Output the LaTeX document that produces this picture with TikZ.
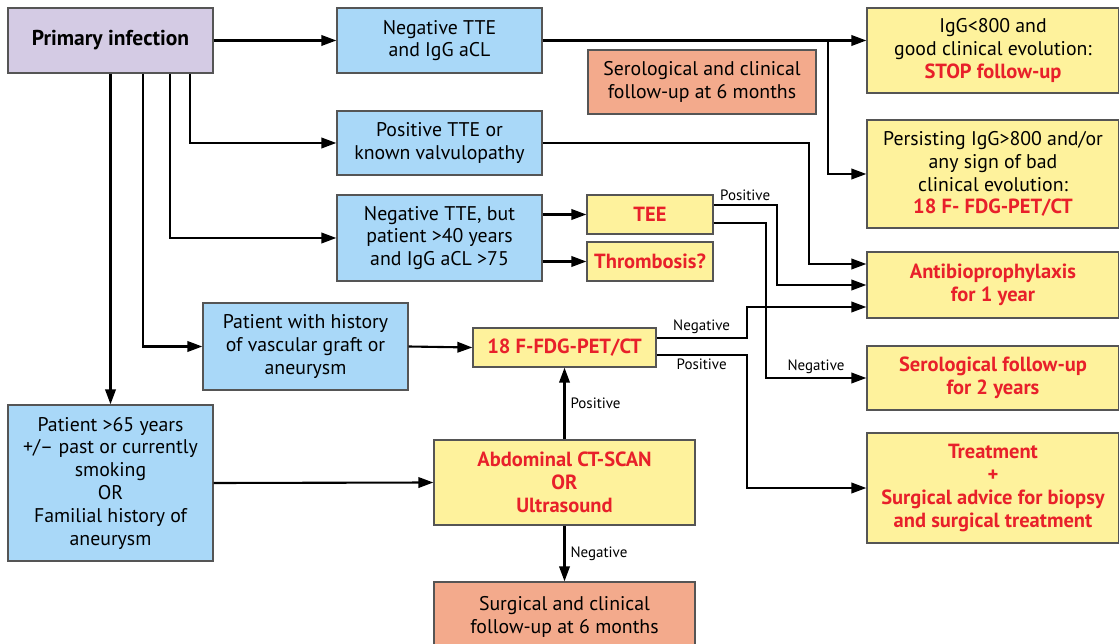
\documentclass[tikz,border=0pt]{standalone}
\usepackage{fontspec}
\setmainfont{PT Sans}
\usetikzlibrary{arrows.meta}
\definecolor{redtxt}{HTML}{E8202A}
\definecolor{bordercol}{HTML}{555555}
\definecolor{lav}{HTML}{D4CBE4}
\definecolor{bluefill}{HTML}{A9D8F8}
\definecolor{yelfill}{HTML}{FEF29C}
\definecolor{salfill}{HTML}{F3AA8C}
\newcommand{\rbf}[1]{{\color{redtxt}\fontsize{20.5}{22.8}\selectfont\bfseries #1}}
\begin{document}
\begin{tikzpicture}[x=1pt,y=-1pt,
  box/.style={draw=bordercol, line width=1.3pt, align=center, inner sep=0pt,
    font=\fontsize{19.8}{22.8}\selectfont},
  purp/.style={box, fill=lav},
  blu/.style={box, fill=bluefill},
  yel/.style={box, fill=yelfill},
  sal/.style={box, fill=salfill},
  rb/.style={text=redtxt, font=\fontsize{20.5}{22.8}\selectfont\bfseries},
  arr/.style={line width=2.1pt, line join=miter, -{Triangle[length=15pt,width=10.5pt]}},
  lab/.style={font=\fontsize{15}{17}\selectfont, inner sep=3pt}]
\useasboundingbox (0,0) rectangle (1119,644);

\node[purp, minimum width=205pt, minimum height=65pt, font=\fontsize{21.5}{24}\selectfont\bfseries] (prim) at (110.5,40.5) {Primary infection};
\node[blu, minimum width=205pt, minimum height=65pt] (negtte) at (439.5,40.5) {Negative TTE\\and IgG aCL};
\node[blu, minimum width=205pt, minimum height=64pt] (postte) at (439.5,143) {Positive TTE or\\known valvulopathy};
\node[blu, minimum width=205pt, minimum height=86pt] (negbut) at (439.5,238) {Negative TTE, but\\patient >40 years\\and IgG aCL >75};
\node[yel, rb, minimum width=126pt, minimum height=39pt] (tee) at (650,214.5) {TEE};
\node[yel, rb, minimum width=126pt, minimum height=39pt] (thromb) at (650,261.5) {Thrombosis?};
\node[sal, minimum width=228pt, minimum height=64pt] (sero6) at (702,82) {Serological and clinical\\follow-up at 6 months};
\node[yel, minimum width=252pt, minimum height=85pt] (igg) at (993,50.5) {IgG<800 and\\good clinical evolution:\\\rbf{STOP follow-up}};
\node[yel, minimum width=252pt, minimum height=108pt] (persist) at (993,174) {Persisting IgG>800 and/or\\any sign of bad\\clinical evolution:\\\rbf{18 F- FDG-PET/CT}};
\node[yel, rb, minimum width=252pt, minimum height=66pt] (anti) at (993,285) {Antibioprophylaxis\\for 1 year};
\node[yel, rb, minimum width=252pt, minimum height=64pt] (sero2) at (993,378) {Serological follow-up\\for 2 years};
\node[yel, rb, minimum width=252pt, minimum height=110pt] (treat) at (993,488) {Treatment\\+\\Surgical advice for biopsy\\and surgical treatment};
\node[blu, minimum width=205pt, minimum height=87pt] (hist) at (305.5,346.5) {Patient with history\\of vascular graft or\\aneurysm};
\node[yel, rb, minimum width=183pt, minimum height=39pt] (pet) at (564.5,347.5) {18 F-FDG-PET/CT};
\node[blu, minimum width=205pt, minimum height=156pt] (p65) at (110.5,483) {Patient >65 years\\+/– past or currently\\smoking\\OR\\Familial history of\\aneurysm};
\node[yel, rb, minimum width=261pt, minimum height=85pt] (ct) at (564.5,482.5) {Abdominal CT-SCAN\\OR\\Ultrasound};
\node[sal, minimum width=261pt, minimum height=70pt] (surg) at (564.5,617) {Surgical and clinical\\follow-up at 6 months};

\coordinate (b1) at (828,40.5);
\coordinate (b2) at (809,143);

% from primary infection
\draw[arr] (prim.east) -- (negtte.west);
\draw[arr] ([xshift=79.5pt]prim.south) |- (postte.west);
\draw[arr] ([xshift=59.5pt]prim.south) |- (negbut.west);
\draw[arr] ([xshift=32.5pt]prim.south) |- (hist.west);
\draw[arr] (prim.south) -- (p65.north);

% negative TTE
\draw[arr] (negtte.east) -- (negtte.east -| igg.west);
\draw[arr] (b1) |- (persist.west);

% positive TTE
\draw[arr] (postte.east) -- (b2) |- ([yshift=21pt]anti.west);

% negative TTE but
\draw[arr] (tee.west -| negbut.east) -- (tee.west);
\draw[arr] (thromb.west -| negbut.east) -- (thromb.west);

% TEE
\draw[arr] ([yshift=9.5pt]tee.east) -- ++(63,0) node[lab, midway, above] {Positive} |- (anti.west);
\draw[arr] ([yshift=-8.5pt]tee.east) -- ++(52,0) |- node[lab, pos=0.75, above] {Negative} (sero2.west);

% history -> PET
\draw[arr] (hist.east) -- (pet.west);
\draw[arr] ([yshift=9.5pt]pet.east) -- ++(90,0) node[lab, midway, above] {Negative} |- ([yshift=-22pt]anti.west);
\draw[arr] ([yshift=-7.5pt]pet.east) -- ++(90,0) node[lab, midway, below] {Positive} |- (treat.west);

% >65
\draw[arr] (p65.east) -- (ct.west);
\draw[arr] (ct.north) -- node[lab, right, xshift=2pt] {Positive} (pet.south);
\draw[arr] (ct.south) -- node[lab, right, xshift=2pt] {Negative} (surg.north);
\end{tikzpicture}
\end{document}
